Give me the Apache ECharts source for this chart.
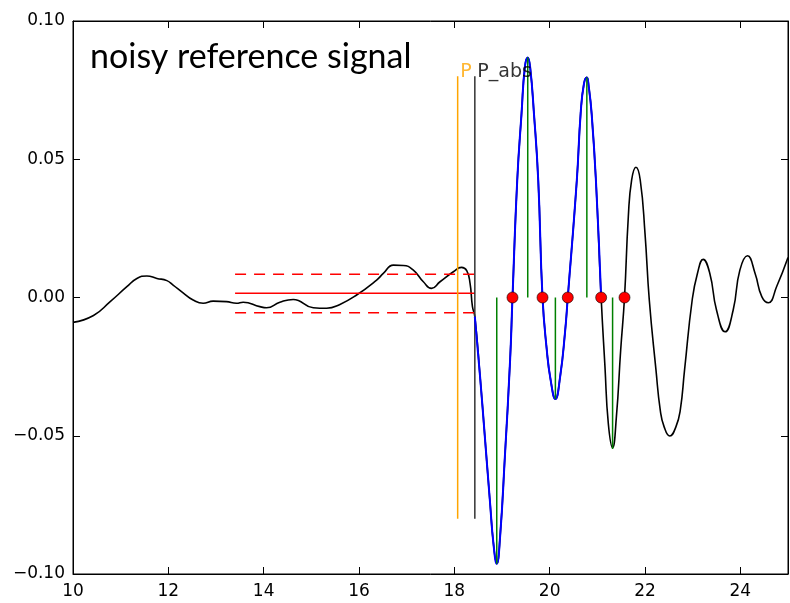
<!DOCTYPE html>
<html>
<head>
<meta charset="utf-8">
<script src="https://cdn.jsdelivr.net/npm/echarts@6/dist/echarts.min.js"></script>
<style>html,body{margin:0;padding:0;background:#fff;}#chart{width:790px;height:603px;}</style>
</head>
<body>
<div id="chart"></div>
<script>
// ---- data ----
var signal = [
  [10.00,-0.0090],[10.43,-0.0065],[10.78,-0.0015],[11.13,0.0039],[11.34,0.0069],
  [11.55,0.0078],[11.76,0.0069],[11.97,0.0061],[12.10,0.0045],[12.31,0.0017],
  [12.52,-0.0009],[12.73,-0.0021],[12.94,-0.0013],[13.22,-0.0015],[13.43,-0.0021],
  [13.57,-0.0017],[13.92,-0.0033],[14.06,-0.0037],[14.34,-0.0017],[14.62,-0.0007],
  [15.04,-0.0037],[15.32,-0.0039],[15.60,-0.0025],[15.95,0.0009],[16.37,0.0063],
  [16.51,0.0087],[16.72,0.0117],[16.93,0.0116],[17.14,0.0099],[17.35,0.0057],
  [17.52,0.0033],[17.70,0.0057],[17.98,0.0093],[18.15,0.0109],[18.26,0.0097],
  [18.33,0.0051],[18.38,-0.0033],[18.43,-0.0069],[18.54,-0.0286],[18.64,-0.0503],
  [18.75,-0.0744],[18.82,-0.0889],[18.89,-0.0963],[18.96,-0.0865],[19.06,-0.0576],
  [19.17,-0.0226],[19.22,0.0000],[19.32,0.0425],[19.41,0.0666],[19.48,0.0834],
  [19.54,0.0868],[19.59,0.0834],[19.67,0.0666],[19.76,0.0425],[19.85,0.0000],
  [19.94,-0.0190],[20.02,-0.0298],[20.12,-0.0367],[20.22,-0.0286],[20.32,-0.0130],
  [20.38,0.0000],[20.57,0.0425],[20.65,0.0666],[20.72,0.0774],[20.78,0.0796],
  [20.82,0.0762],[20.88,0.0666],[20.97,0.0425],[21.08,0.0000],[21.16,-0.0250],
  [21.23,-0.0455],[21.32,-0.0543],[21.40,-0.0431],[21.49,-0.0190],[21.57,0.0000],
  [21.65,0.0292],[21.72,0.0425],[21.81,0.0471],[21.90,0.0425],[22.00,0.0232],
  [22.09,-0.0009],[22.23,-0.0262],[22.32,-0.0407],[22.40,-0.0467],[22.52,-0.0501],
  [22.65,-0.0467],[22.74,-0.0407],[22.83,-0.0262],[22.99,-0.0009],[23.10,0.0087],
  [23.22,0.0138],[23.36,0.0087],[23.50,-0.0045],[23.68,-0.0124],[23.85,-0.0045],
  [23.99,0.0099],[24.15,0.0151],[24.31,0.0087],[24.45,0.0003],[24.59,-0.0019],
  [24.76,0.0039],[25.00,0.0145]
];
var pickP = 18.07;
var pickPabs = 18.43;
var pickLineLow = -0.08;
var pickLineHigh = 0.08;
var noiseStart = 13.40;
var noiseMean = 0.0015;
var noiseUpper = 0.0084;
var noiseLower = -0.0055;
var zeroCrossings = [19.22, 19.85, 20.38, 21.08, 21.57];
var extremaX = [18.89, 19.54, 20.12, 20.78, 21.32];
var extremaY = [-0.0963, 0.0868, -0.0367, 0.0796, -0.0548];
var xTickLabels = ['10','12','14','16','18','20','22','24'];
var yTickLabels = ['\u22120.10','\u22120.05','0.00','0.05','0.10'];
var titleText = 'noisy reference signal';

// ---- chart ----
var xMin = 10, xMax = 25, xStep = 2;
var yMin = -0.1, yMax = 0.1, yStep = 0.05;
var blueEnd = zeroCrossings[3];
var blueData = signal.filter(function(p){ return p[0] >= pickPabs - 1e-9 && p[0] <= blueEnd + 1e-9; });

var tickFont = { color:'#000', fontSize:17, fontFamily:'DejaVu Sans' };
function xAxisDef(pos, labels){
  return {
    type:'value', min:xMin, max:xMax, interval:xStep, position:pos,
    axisLine:{show:true, onZero:false, lineStyle:{color:'#000', width:1}},
    axisTick:{show:true, inside:true, length:7, lineStyle:{color:'#000', width:1}},
    axisLabel:Object.assign({show:labels, margin:9, showMaxLabel:false,
      formatter:function(v){ var i=Math.round((v-xMin)/xStep); return xTickLabels[i]||''; }}, tickFont),
    splitLine:{show:false}
  };
}
function yAxisDef(pos, labels){
  return {
    type:'value', min:yMin, max:yMax, interval:yStep, position:pos,
    axisLine:{show:true, onZero:false, lineStyle:{color:'#000', width:1}},
    axisTick:{show:true, inside:true, length:7, lineStyle:{color:'#000', width:1}},
    axisLabel:Object.assign({show:labels, margin:8,
      formatter:function(v){ var i=Math.round((v-yMin)/yStep); return yTickLabels[i]||''; }}, tickFont),
    splitLine:{show:false}
  };
}

var series = [];
series.push({ type:'line', data:signal, showSymbol:false, smooth:0.5,
  lineStyle:{color:'#000', width:1.6}, z:2, silent:true });
series.push({ type:'line', data:[[noiseStart,noiseMean],[pickPabs,noiseMean]], showSymbol:false,
  lineStyle:{color:'#ff0000', width:1.5}, z:3 });
[noiseUpper, noiseLower].forEach(function(v){
  series.push({ type:'line', data:[[noiseStart,v],[pickPabs,v]], showSymbol:false,
    lineStyle:{color:'#ff0000', width:1.5, type:[11,8]}, z:3 });
});
series.push({ type:'line', data:[[pickP,pickLineLow],[pickP,pickLineHigh]], showSymbol:false,
  lineStyle:{color:'#ffa500', width:1.5}, z:4 });
series.push({ type:'line', data:[[pickPabs,pickLineLow],[pickPabs,pickLineHigh]], showSymbol:false,
  lineStyle:{color:'#333333', width:1.5}, z:4 });
series.push({ type:'line', data:blueData, showSymbol:false, smooth:0.5,
  lineStyle:{color:'#0000ff', width:2}, z:5 });
extremaX.forEach(function(x, i){
  series.push({ type:'line', data:[[x,0],[x,extremaY[i]]], showSymbol:false,
    lineStyle:{color:'#008000', width:1.5}, z:6 });
});
series.push({ type:'scatter', data:zeroCrossings.map(function(x){ return [x,0]; }), symbolSize:11,
  itemStyle:{color:'#ff0000', borderColor:'#000', borderWidth:0.6, opacity:1}, z:7 });
series.push({ type:'scatter', symbolSize:1, itemStyle:{color:'rgba(0,0,0,0)'}, z:8,
  data:[
    {value:[pickP,pickLineHigh], label:{formatter:'P', color:'#ffa500'}},
    {value:[pickPabs,pickLineHigh], label:{formatter:'P_abs', color:'#000'}}
  ],
  label:{show:true, position:[3,6], align:'left', verticalAlign:'bottom', fontSize:19, fontFamily:'DejaVu Sans'}
});

var chart = echarts.init(document.getElementById('chart'), null, {renderer:'canvas'});
chart.setOption({
  animation:false,
  backgroundColor:'#fff',
  title:{ text:titleText, left:85, top:35, textStyle:{fontFamily:'Lato', fontSize:34, fontWeight:'normal', color:'#000'} },
  grid:{ left:73, right:2, top:21, bottom:29, show:true, borderColor:'#000', borderWidth:1, containLabel:false },
  xAxis:[ xAxisDef('bottom', true), xAxisDef('top', false) ],
  yAxis:[ yAxisDef('left', true), yAxisDef('right', false) ],
  series:series
});
</script>
</body>
</html>
